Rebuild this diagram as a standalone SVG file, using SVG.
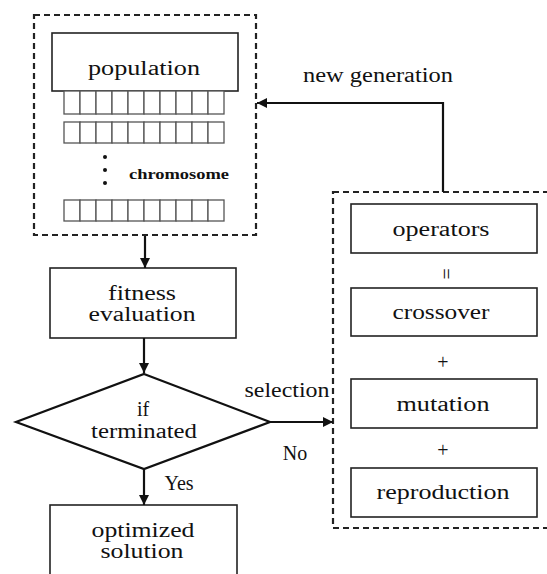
<svg xmlns="http://www.w3.org/2000/svg" width="547" height="574" viewBox="0 0 547 574">
<defs>
<marker id="ah" viewBox="0 0 10 10" refX="10" refY="5" markerWidth="10" markerHeight="10" markerUnits="userSpaceOnUse" orient="auto">
<path d="M0,0 L10,5 L0,10 z" fill="#111"/>
</marker>
<style>
.box{fill:#fff;stroke:#222;stroke-width:1.6}
.dash{fill:none;stroke:#222;stroke-width:2.2;stroke-dasharray:6 4}
.cell{fill:#fff;stroke:#555;stroke-width:1.3}
.t{font-size:20px;fill:#111;text-anchor:middle}
.s{font-size:14px;font-weight:bold;fill:#111}
.c{fill:none;stroke:#111;stroke-width:2.2}
</style>
</defs>
<rect width="547" height="574" fill="#fff"/>
<g font-family="Liberation Serif, Times New Roman, serif">
<g id="population-group">
<rect class="dash" x="34" y="15" width="222" height="220"/>
</g>
<g id="population">
<rect class="box" x="52" y="33" width="186" height="58"/>
<text class="t" x="144" y="75" textLength="112" lengthAdjust="spacingAndGlyphs">population</text>
</g>
<g id="chromosomes">
<g id="row1">
<rect class="cell" x="64" y="91" width="16" height="23"/><rect class="cell" x="80" y="91" width="16" height="23"/><rect class="cell" x="96" y="91" width="16" height="23"/><rect class="cell" x="112" y="91" width="16" height="23"/><rect class="cell" x="128" y="91" width="16" height="23"/><rect class="cell" x="144" y="91" width="16" height="23"/><rect class="cell" x="160" y="91" width="16" height="23"/><rect class="cell" x="176" y="91" width="16" height="23"/><rect class="cell" x="192" y="91" width="16" height="23"/><rect class="cell" x="208" y="91" width="16" height="23"/>
</g>
<g id="row2">
<rect class="cell" x="64" y="122" width="16" height="21"/><rect class="cell" x="80" y="122" width="16" height="21"/><rect class="cell" x="96" y="122" width="16" height="21"/><rect class="cell" x="112" y="122" width="16" height="21"/><rect class="cell" x="128" y="122" width="16" height="21"/><rect class="cell" x="144" y="122" width="16" height="21"/><rect class="cell" x="160" y="122" width="16" height="21"/><rect class="cell" x="176" y="122" width="16" height="21"/><rect class="cell" x="192" y="122" width="16" height="21"/><rect class="cell" x="208" y="122" width="16" height="21"/>
</g>
<circle cx="105" cy="157" r="2" fill="#111"/>
<circle cx="105" cy="170" r="2" fill="#111"/>
<circle cx="105" cy="183" r="2" fill="#111"/>
<text class="s" x="129" y="179" textLength="100" lengthAdjust="spacingAndGlyphs">chromosome</text>
<g id="row3">
<rect class="cell" x="64" y="200" width="16" height="21"/><rect class="cell" x="80" y="200" width="16" height="21"/><rect class="cell" x="96" y="200" width="16" height="21"/><rect class="cell" x="112" y="200" width="16" height="21"/><rect class="cell" x="128" y="200" width="16" height="21"/><rect class="cell" x="144" y="200" width="16" height="21"/><rect class="cell" x="160" y="200" width="16" height="21"/><rect class="cell" x="176" y="200" width="16" height="21"/><rect class="cell" x="192" y="200" width="16" height="21"/><rect class="cell" x="208" y="200" width="16" height="21"/>
</g>
</g>

<g id="fitness">
<rect class="box" x="50" y="268" width="186" height="70"/>
<text class="t" x="142" y="300" textLength="68" lengthAdjust="spacingAndGlyphs">fitness</text>
<text class="t" x="142" y="321" textLength="107" lengthAdjust="spacingAndGlyphs">evaluation</text>
</g>

<g id="decision">
<polygon points="144,374 270,422 144,469 16,422" fill="#fff" stroke="#111" stroke-width="2.2"/>
<text class="t" x="143" y="416" font-size="19">if</text>
<text class="t" x="144" y="438" font-size="19" textLength="106" lengthAdjust="spacingAndGlyphs">terminated</text>
</g>

<g id="optimized">
<rect class="box" x="50" y="505" width="187" height="75"/>
<text class="t" x="143" y="537" textLength="103" lengthAdjust="spacingAndGlyphs">optimized</text>
<text class="t" x="142" y="558" textLength="83" lengthAdjust="spacingAndGlyphs">solution</text>
</g>

<g id="operators-group">
<rect class="dash" x="333" y="192" width="230" height="336"/>
</g>
<g id="operators">
<rect class="box" x="351" y="204" width="186" height="49"/>
<text class="t" x="441" y="236" textLength="97" lengthAdjust="spacingAndGlyphs">operators</text>
</g>
<text class="t" x="443" y="274" font-size="15" transform="rotate(90 443 274)" dy="4">=</text>
<g id="crossover">
<rect class="box" x="351" y="288" width="186" height="48"/>
<text class="t" x="441" y="319" textLength="97" lengthAdjust="spacingAndGlyphs">crossover</text>
</g>
<text class="t" x="443" y="369">+</text>
<g id="mutation">
<rect class="box" x="351" y="379" width="186" height="49"/>
<text class="t" x="443" y="411" textLength="93" lengthAdjust="spacingAndGlyphs">mutation</text>
</g>
<text class="t" x="443" y="457">+</text>
<g id="reproduction">
<rect class="box" x="351" y="468" width="186" height="49"/>
<text class="t" x="443" y="499" textLength="133" lengthAdjust="spacingAndGlyphs">reproduction</text>
</g>

<g id="connectors">
<line class="c" x1="145" y1="236" x2="145" y2="268" marker-end="url(#ah)"/>
<line class="c" x1="144" y1="338" x2="144" y2="373" marker-end="url(#ah)"/>
<line class="c" x1="144" y1="469" x2="144" y2="505" marker-end="url(#ah)"/>
<line class="c" x1="270" y1="422" x2="333" y2="422" marker-end="url(#ah)"/>
<polyline class="c" points="443,192 443,103 257,103" marker-end="url(#ah)"/>
<text class="t" x="378" y="82" textLength="150" lengthAdjust="spacingAndGlyphs">new generation</text>
<text class="t" x="287" y="397" textLength="85" lengthAdjust="spacingAndGlyphs">selection</text>
<text class="t" x="295" y="460">No</text>
<text class="t" x="179" y="490">Yes</text>
</g>
</g>
</svg>
